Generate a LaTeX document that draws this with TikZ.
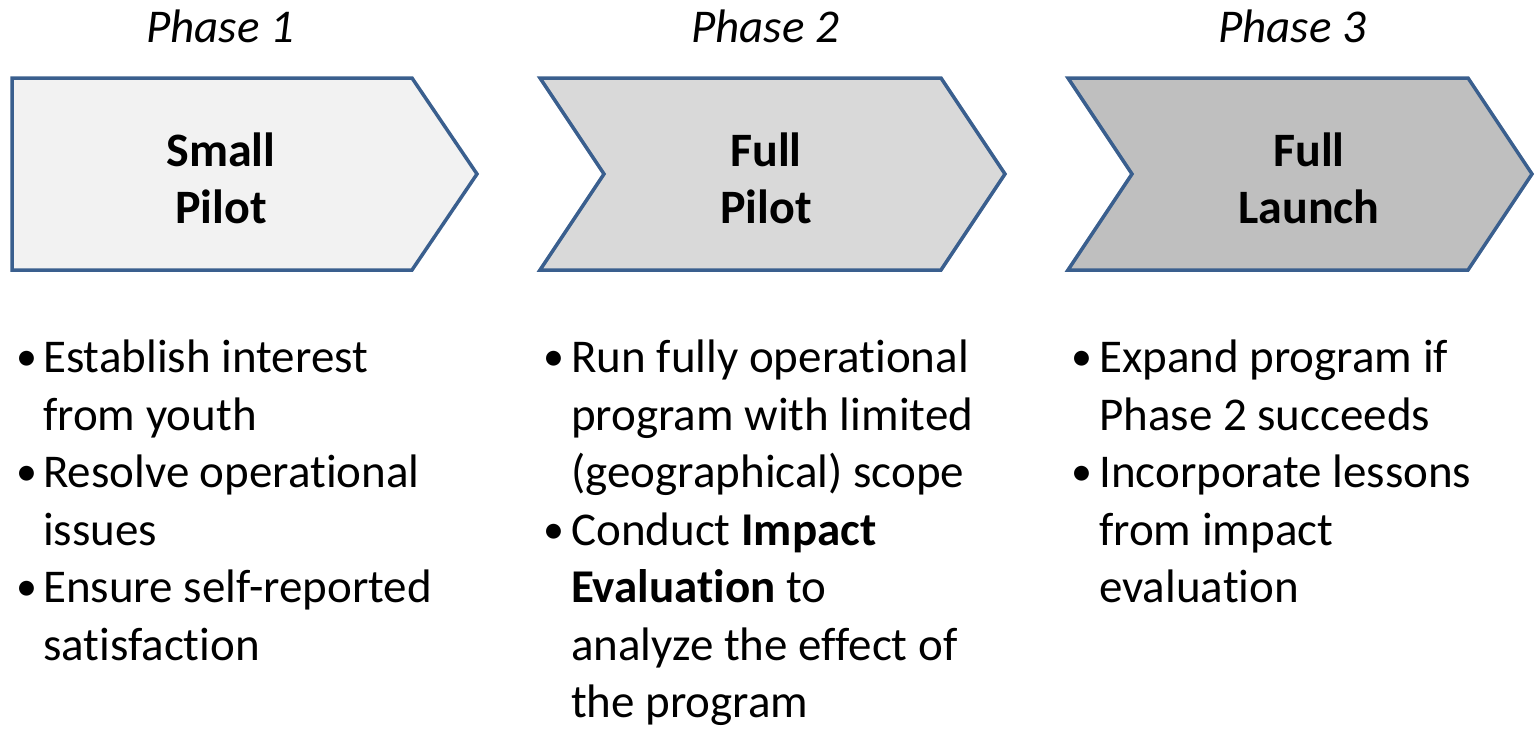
\documentclass[tikz,border=0pt]{standalone}
\usepackage{fontspec}
\setmainfont{Carlito}[Ligatures=NoCommon]
\definecolor{edgeblue}{HTML}{3A5F8E}
\definecolor{fillA}{HTML}{F2F2F2}
\definecolor{fillB}{HTML}{D9D9D9}
\definecolor{fillC}{HTML}{BFBFBF}
\tikzset{
  chev/.style={draw=edgeblue, line width=3.5pt, line join=miter},
  phaselbl/.style={anchor=base, inner sep=0pt, font=\fontsize{47}{57}\selectfont\itshape},
  boxtxt/.style={anchor=base, inner sep=0pt, font=\fontsize{48}{57}\selectfont\bfseries},
  bodytxt/.style={anchor=base west, inner sep=0pt, font=\fontsize{47}{57}\selectfont},
  bul/.style={anchor=base, inner sep=0pt, yshift=1.8pt, font=\fontsize{42}{48}\selectfont},
}
\begin{document}
\begin{tikzpicture}[x=1pt,y=-1pt]
\useasboundingbox (0,0) rectangle (1538,728);
% chevrons
\draw[chev, fill=fillA] (12,78) -- (412,78) -- (477,174) -- (412,270) -- (12,270) -- cycle;
\draw[chev, fill=fillB] (540,78) -- (941,78) -- (1005,174) -- (941,270) -- (540,270) -- (604,174) -- cycle;
\draw[chev, fill=fillC] (1068,78) -- (1468,78) -- (1532,174) -- (1468,270) -- (1068,270) -- (1132,174) -- cycle;
% phase labels
\node[phaselbl] (p1) at (220,42) {Phase 1};
\node[phaselbl] (p2) at (765,42) {Phase 2};
\node[phaselbl] (p3) at (1292,42) {Phase 3};
% box texts
\node[boxtxt] (b1a) at (221,166) {Small};
\node[boxtxt] (b1b) at (221,223) {Pilot};
\node[boxtxt] (b2a) at (766,166) {Full};
\node[boxtxt] (b2b) at (766,223) {Pilot};
\node[boxtxt] (b3a) at (1309,166) {Full};
\node[boxtxt] (b3b) at (1309,223) {Launch};
% column 1
\node[bul] (c1u1) at (27,372) {•};
\node[bodytxt] (c1l1) at (43,372) {Establish interest};
\node[bodytxt] (c1l2) at (43,430) {from youth};
\node[bul] (c1u2) at (27,487) {•};
\node[bodytxt] (c1l3) at (43,487) {Resolve operational};
\node[bodytxt] (c1l4) at (43,545) {issues};
\node[bul] (c1u3) at (27,602) {•};
\node[bodytxt] (c1l5) at (43,602) {Ensure self-reported};
\node[bodytxt] (c1l6) at (43,660) {satisfaction};
% column 2
\node[bul] (c2u1) at (554,372) {•};
\node[bodytxt] (c2l1) at (571,372) {Run fully operational};
\node[bodytxt] (c2l2) at (571,430) {program with limited};
\node[bodytxt] (c2l3) at (571,487) {(geographical) scope};
\node[bul] (c2u2) at (554,545) {•};
\node[bodytxt] (c2l4) at (571,545) {Conduct \textbf{Impact}};
\node[bodytxt] (c2l5) at (571,602) {\textbf{Evaluation} to};
\node[bodytxt] (c2l6) at (571,660) {analyze the effect of};
\node[bodytxt] (c2l7) at (571,717) {the program};
% column 3
\node[bul] (c3u1) at (1082,372) {•};
\node[bodytxt] (c3l1) at (1099,372) {Expand program if};
\node[bodytxt] (c3l2) at (1099,430) {Phase 2 succeeds};
\node[bul] (c3u2) at (1082,487) {•};
\node[bodytxt] (c3l3) at (1099,487) {Incorporate lessons};
\node[bodytxt] (c3l4) at (1099,545) {from impact};
\node[bodytxt] (c3l5) at (1099,602) {evaluation};
\end{tikzpicture}
\end{document}
